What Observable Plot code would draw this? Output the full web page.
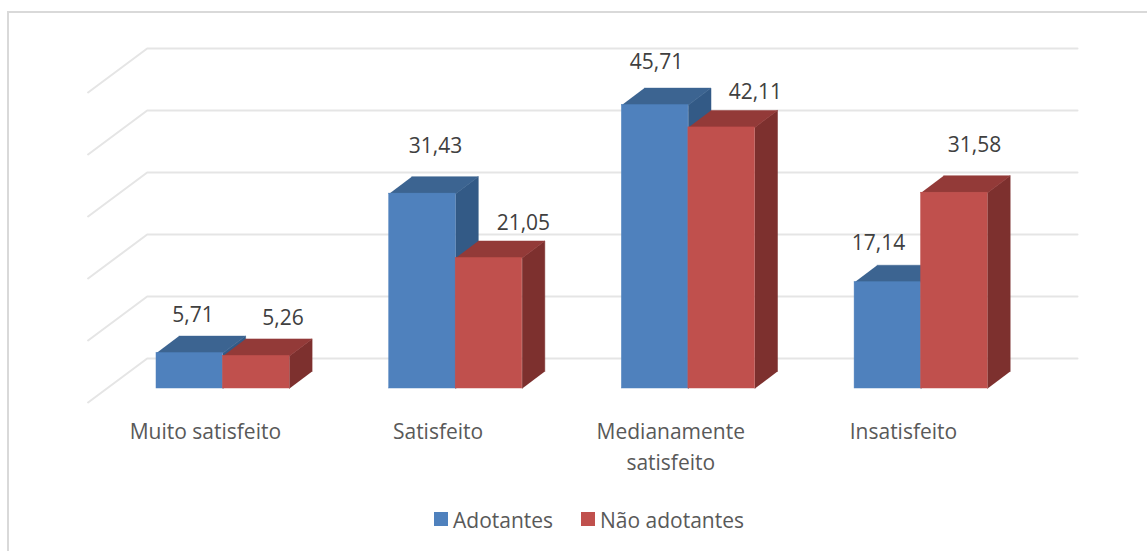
<!DOCTYPE html>
<html>
<head>
<meta charset="utf-8">
<script src="https://cdn.jsdelivr.net/npm/d3@7"></script>
<script src="https://cdn.jsdelivr.net/npm/@observablehq/plot@0.6"></script>
<style>
  html, body { margin: 0; padding: 0; background: #fff; overflow: hidden; }
  #page { position: relative; width: 1147px; height: 551px; overflow: hidden; }
  #frame { position: absolute; left: 7px; top: 11px; width: 1300px; height: 700px; border: 2px solid #d9d9d9; box-sizing: border-box; }
  #chart { position: absolute; left: 0; top: 0; }
  svg { display: block; background: transparent !important; }
  #legend { position: absolute; left: 0; top: 507px; width: 1147px;
            font: 21px "Open Sans", sans-serif; color: #595959; line-height: 26px; }
  .sw { position: absolute; top: 5px; width: 14px; height: 14px; }
  .lb { position: absolute; top: 0; white-space: nowrap; }
</style>
</head>
<body>
<div id="page">
  <div id="frame"></div>
  <div id="chart"></div>
  <div id="legend"></div>
</div>
<script>
const categories = ["Muito satisfeito", "Satisfeito", "Medianamente\nsatisfeito", "Insatisfeito"];
const adotantes = [5.71, 31.43, 45.71, 17.14];
const naoAdotantes = [5.26, 21.05, 42.11, 31.58];
const seriesNames = ["Adotantes", "Não adotantes"];
const gridValues = [0, 10, 20, 30, 40, 50];

// Colours per series: front, top, side
const palette = [
  {front: "#4f81bd", top: "#3c6491", side: "#335a86"},
  {front: "#c0504d", top: "#933a38", side: "#7d302e"}
];

// Pseudo-3D geometry, in data units (x: one unit per category, y: value)
const barW = 0.2858, depthX = 0.0971, depthY = 2.74;
const wallX = -0.04, wallY = 4.84, frontX = -0.294, frontY = -2.26, wallEnd = 3.958;

// Value-label nudges in data units, relative to the bar's front centre and top
const nudgeA = [[0.014, 6.1], [0.056, 7.6], [0.006, 6.9], [-0.04, 6.3]];
const nudgeN = [[0.115, 6.0], [0.148, 5.6], [0.145, 5.6], [0.0865, 7.6]];

const bars = [];
categories.forEach((c, i) => {
  [adotantes, naoAdotantes].forEach((arr, s) => {
    const nudge = (s === 0 ? nudgeA : nudgeN)[i];
    bars.push({i, s, v: arr[i], x0: i + s * barW, x1: i + (s + 1) * barW, nudge});
  });
});

const faces = [];
bars.forEach((b, n) => {
  const c = palette[b.s];
  const add = (kind, fill, pts) => pts.forEach(([x, y]) => faces.push({id: n + kind, fill, x, y}));
  add("side", c.side, [[b.x1, 0], [b.x1, b.v], [b.x1 + depthX, b.v + depthY], [b.x1 + depthX, depthY]]);
  add("top", c.top, [[b.x0, b.v], [b.x1, b.v], [b.x1 + depthX, b.v + depthY], [b.x0 + depthX, b.v + depthY]]);
});

const grid = gridValues.flatMap(g => [
  {g, x: frontX, y: g + frontY},
  {g, x: wallX, y: g + wallY},
  {g, x: wallEnd, y: g + wallY}
]);

// Draw each bar in order, side/top first, then front
const faceOpts = {x: "x", y: "y", z: "id", fill: "fill", stroke: "fill", strokeWidth: 0.5, curve: "linear"};
const barMarks = bars.flatMap((b, n) => [
  Plot.line(faces.filter(f => f.id === n + "side"), faceOpts),
  Plot.line(faces.filter(f => f.id === n + "top"), faceOpts),
  Plot.rect([b], {x1: "x0", x2: "x1", y1: () => 0, y2: "v", fill: palette[b.s].front, stroke: palette[b.s].front, strokeWidth: 0.5})
]);

const chart = Plot.plot({
  width: 1147,
  height: 500,
  margin: 0,
  style: {background: "transparent"},
  x: {type: "linear", domain: [0, 1], range: [156, 388.7], axis: null},
  y: {type: "linear", domain: [0, 50], range: [388, 78], axis: null},
  marks: [
    Plot.line(grid, {x: "x", y: "y", z: "g", stroke: "#e5e5e5", strokeWidth: 2, curve: "linear"}),
    ...barMarks,
    Plot.text(bars, {
      x: d => d.x0 + barW / 2 + d.nudge[0],
      y: d => d.v + d.nudge[1],
      text: d => d3.format(".2f")(d.v).replace(".", ","),
      fontFamily: "Open Sans", fontSize: 21, fill: "#404040", textAnchor: "middle"
    }),
    Plot.text(categories, {
      x: (d, i) => i + 0.21,
      y: () => -4.52,
      text: d => d,
      fontFamily: "Open Sans", fontSize: 21, fill: "#595959",
      textAnchor: "middle", lineAnchor: "top", lineHeight: 1.476
    })
  ]
});
document.getElementById("chart").appendChild(chart);

// Legend, below the plot
const legend = document.getElementById("legend");
[[434, 453], [581, 600]].forEach(([sx, lx], i) => {
  const sw = document.createElement("span");
  sw.className = "sw"; sw.style.left = sx + "px"; sw.style.background = palette[i].front;
  const lb = document.createElement("span");
  lb.className = "lb"; lb.style.left = lx + "px"; lb.textContent = seriesNames[i];
  legend.append(sw, lb);
});
</script>
</body>
</html>
